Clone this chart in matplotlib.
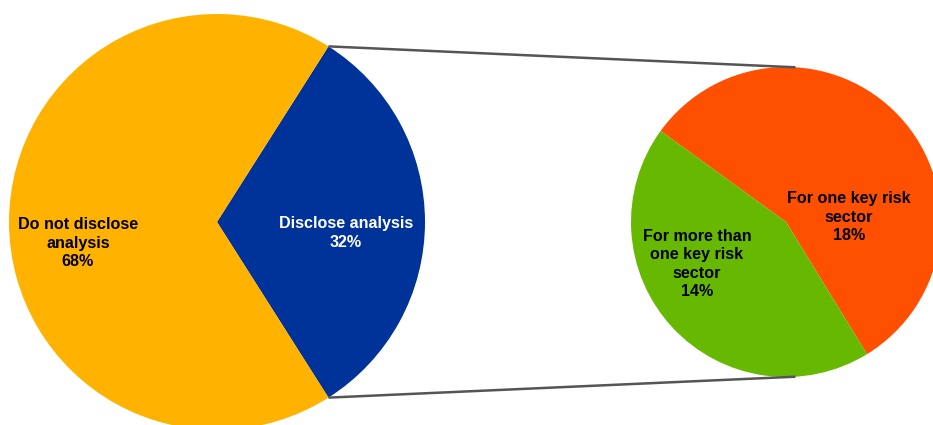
import numpy as np
import matplotlib
matplotlib.use("Agg")
import matplotlib.pyplot as plt

# Data
main_labels = ["Disclose analysis", "Do not disclose\nanalysis"]
main_values = [32, 68]
main_colors = ["#003399", "#FFB300"]

sub_labels = ["For one key risk\nsector", "For more than\none key risk\nsector"]
sub_values = [18, 14]
sub_colors = ["#FF4F00", "#66B800"]

W, H = 933, 425
fig = plt.figure(figsize=(W / 100, H / 100), dpi=100)
ax = fig.add_axes([0, 0, 1, 1])

big_c, big_r = (217, 203), 208
small_c, small_r = (786, 203), 155

half = 360 * main_values[0] / sum(main_values) / 2
ax.pie(main_values, colors=main_colors, startangle=-half, counterclock=True,
       center=big_c, radius=big_r, wedgeprops=dict(linewidth=0))
ax.pie(sub_values, colors=sub_colors, startangle=144, counterclock=False,
       center=small_c, radius=small_r, wedgeprops=dict(linewidth=0))

# connector lines
t = np.deg2rad(half)
p_top = (big_c[0] + big_r * np.cos(t), big_c[1] + big_r * np.sin(t))
p_bot = (big_c[0] + big_r * np.cos(-t), big_c[1] + big_r * np.sin(-t))
a = np.deg2rad(86.5)
q_top = (small_c[0] + small_r * np.cos(a), small_c[1] + small_r * np.sin(a))
q_bot = (small_c[0] + small_r * np.cos(-a), small_c[1] + small_r * np.sin(-a))
ax.plot([p_top[0], q_top[0]], [p_top[1], q_top[1]], color="#555555", lw=1.8, solid_capstyle="butt")
ax.plot([p_bot[0], q_bot[0]], [p_bot[1], q_bot[1]], color="#555555", lw=1.8, solid_capstyle="butt")

fkw = dict(family=["Liberation Sans", "DejaVu Sans"], fontweight="bold", fontsize=11.6,
           ha="center", va="center", linespacing=1.3)
ax.text(346, H - 233, f"{main_labels[0]}\n{main_values[0]}%", color="white", **fkw)
ax.text(78, H - 243, f"{main_labels[1]}\n{main_values[1]}%", color="black", **fkw)
ax.text(849, H - 217, f"{sub_labels[0]}\n{sub_values[0]}%", color="black", **fkw)
ax.text(697, H - 264, f"{sub_labels[1]}\n{sub_values[1]}%", color="black", **fkw)

ax.set_xlim(0, W)
ax.set_ylim(0, H)
ax.set_aspect("auto")
ax.axis("off")
fig.savefig("out.png", dpi=100, facecolor="white")
